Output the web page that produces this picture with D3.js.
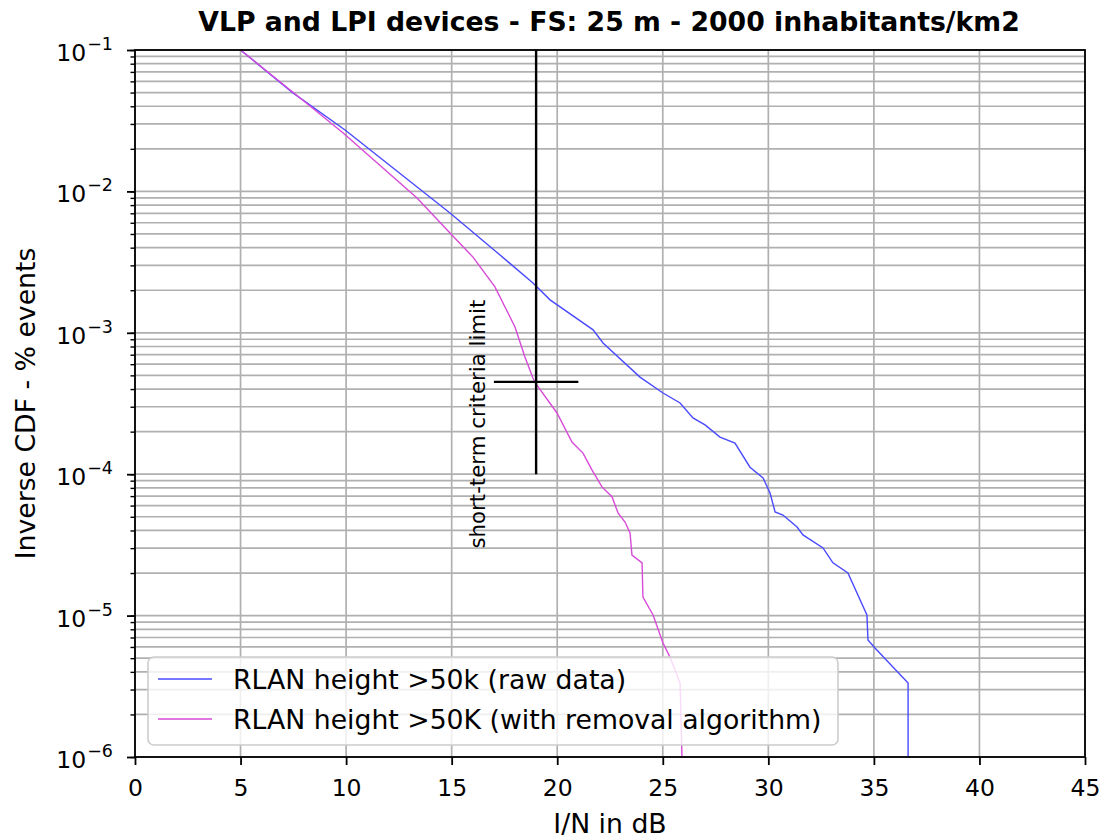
<!DOCTYPE html>
<html>
<head>
<meta charset="utf-8">
<script src="https://cdn.jsdelivr.net/npm/d3@7"></script>
<style>
  html, body { margin: 0; padding: 0; background: #fff; }
  svg { display: block; }
  text { font-family: "DejaVu Sans", sans-serif; fill: #000; }
</style>
</head>
<body>
<svg id="chart" width="1102" height="839"></svg>
<script>
// I/N (dB) and inverse CDF (% events) for the raw RLAN data
const rawIN = [5.0, 7.48, 9.95, 14.92, 17.15, 18.85, 19.66, 21.70, 22.17, 23.92, 25.01, 25.82, 26.43, 27.0, 27.71, 28.42, 29.13, 29.75, 30.08, 30.32, 30.69, 31.36, 31.64, 32.59, 33.06, 33.77, 34.67, 34.72, 35.05, 36.62, 36.62];
const rawCDF = [1e-1, 4.97e-2, 2.72e-2, 7.03e-3, 3.7e-3, 2.25e-3, 1.71e-3, 1.05e-3, 8.47e-4, 4.86e-4, 3.75e-4, 3.19e-4, 2.50e-4, 2.23e-4, 1.83e-4, 1.66e-4, 1.12e-4, 9.4e-5, 7.36e-5, 5.41e-5, 5.14e-5, 4.23e-5, 3.72e-5, 3.01e-5, 2.36e-5, 2.00e-5, 1.01e-5, 6.73e-6, 5.90e-6, 3.33e-6, 1e-6];

// Same scenario after the removal algorithm
const remIN = [5.0, 7.82, 9.86, 13.36, 14.92, 16.01, 17.05, 18.0, 18.47, 18.85, 18.97, 19.99, 20.70, 21.22, 21.65, 22.12, 22.60, 22.88, 23.21, 23.45, 23.54, 24.02, 24.06, 24.54, 25.01, 25.34, 25.82, 25.91];
const remCDF = [1e-1, 4.58e-2, 2.59e-2, 8.97e-3, 5.08e-3, 3.43e-3, 2.11e-3, 1.10e-3, 6.75e-4, 4.79e-4, 4.4e-4, 2.71e-4, 1.69e-4, 1.41e-4, 1.07e-4, 8.13e-5, 6.90e-5, 5.32e-5, 4.59e-5, 3.84e-5, 2.68e-5, 2.36e-5, 1.35e-5, 1.01e-5, 6.40e-6, 5.09e-6, 3.33e-6, 1e-6];

// Short-term criterion marker
const limitIN = 19;
const limitCDF = 4.5e-4;
const limitSpanIN = [17, 21];
const limitSpanCDF = [1e-4, 1e-1];

const xTicks = [0, 5, 10, 15, 20, 25, 30, 35, 40, 45];
const yDecades = [-6, -5, -4, -3, -2, -1];

const seriesNames = ["RLAN height >50k (raw data)", "RLAN height >50K (with removal algorithm)"];
const seriesColors = ["#4a4aff", "#d84ad8"];

const titleText = "VLP and LPI devices - FS: 25 m - 2000 inhabitants/km2";
const xLabel = "I/N in dB";
const yLabel = "Inverse CDF - % events";
const noteText = "short-term criteria limit";

const svg = d3.select("#chart");
const pLeft = 135, pRight = 1085, pTop = 50, pBottom = 757;
const tickFont = 23.5, labelFont = 26.7;

const x = d3.scaleLinear().domain([0, 45]).range([pLeft, pRight]);
const y = d3.scaleLog().domain([1e-6, 1e-1]).range([pBottom, pTop]);

// grid: vertical majors, horizontal decades and minors
const minorVals = [];
for (let d = -6; d < -1; d++) {
  for (let m = 1; m <= 9; m++) minorVals.push(m * Math.pow(10, d));
}
minorVals.push(1e-1);

const grid = svg.append("g").attr("stroke", "#b0b0b0").attr("stroke-width", 1.7);
grid.selectAll("line.v").data(xTicks).join("line")
  .attr("x1", d => x(d)).attr("x2", d => x(d))
  .attr("y1", pTop).attr("y2", pBottom);
grid.selectAll("line.h").data(minorVals).join("line")
  .attr("x1", pLeft).attr("x2", pRight)
  .attr("y1", d => y(d)).attr("y2", d => y(d));

// data lines
const line = d3.line().x(d => x(d[0])).y(d => y(d[1]));
const plot = svg.append("g");
plot.append("path").datum(d3.zip(rawIN, rawCDF))
  .attr("d", line).attr("fill", "none")
  .attr("stroke", seriesColors[0]).attr("stroke-width", 1.4);
plot.append("path").datum(d3.zip(remIN, remCDF))
  .attr("d", line).attr("fill", "none")
  .attr("stroke", seriesColors[1]).attr("stroke-width", 1.4);

// criterion cross
plot.append("line")
  .attr("x1", x(limitIN)).attr("x2", x(limitIN))
  .attr("y1", y(limitSpanCDF[0])).attr("y2", y(limitSpanCDF[1]))
  .attr("stroke", "#000").attr("stroke-width", 2.4);
plot.append("line")
  .attr("x1", x(limitSpanIN[0])).attr("x2", x(limitSpanIN[1]))
  .attr("y1", y(limitCDF)).attr("y2", y(limitCDF))
  .attr("stroke", "#000").attr("stroke-width", 2.4);
svg.append("text")
  .attr("transform", `translate(${x(16.58)},${y(2.26e-4)}) rotate(-90)`)
  .attr("text-anchor", "middle")
  .attr("font-size", 21.3)
  .text(noteText);

// axes
const xAxis = d3.axisBottom(x).tickValues(xTicks).tickSize(8).tickPadding(14).tickFormat(d3.format("d"));
const gx = svg.append("g").attr("transform", `translate(0,${pBottom})`).call(xAxis);
gx.select(".domain").remove();
gx.selectAll(".tick line").attr("stroke", "#000").attr("stroke-width", 1.8);
gx.selectAll(".tick text").attr("font-size", tickFont).attr("font-family", "DejaVu Sans").attr("fill", "#000");

const yAxisMinor = d3.axisLeft(y).tickValues(minorVals).tickSize(4.5).tickFormat("");
const gyMinor = svg.append("g").attr("transform", `translate(${pLeft},0)`).call(yAxisMinor);
gyMinor.select(".domain").remove();
gyMinor.selectAll(".tick line").attr("stroke", "#000").attr("stroke-width", 1.4);

const yAxis = d3.axisLeft(y).tickValues(yDecades.map(e => Math.pow(10, e))).tickSize(8).tickFormat("");
const gy = svg.append("g").attr("transform", `translate(${pLeft},0)`).call(yAxis);
gy.select(".domain").remove();
gy.selectAll(".tick line").attr("stroke", "#000").attr("stroke-width", 1.8);

// decade labels as 10 with superscript exponent
const yl = svg.append("g");
yDecades.forEach(e => {
  const t = yl.append("text")
    .attr("x", pLeft - 22).attr("y", y(Math.pow(10, e)) + 11)
    .attr("text-anchor", "end").attr("font-size", tickFont);
  t.append("tspan").text("10");
  t.append("tspan").attr("font-size", 17.5).attr("dy", -11).attr("dx", 1).text("\u2212" + Math.abs(e));
});

// frame
svg.append("rect").attr("x", pLeft).attr("y", pTop)
  .attr("width", pRight - pLeft).attr("height", pBottom - pTop)
  .attr("fill", "none").attr("stroke", "#000").attr("stroke-width", 1.8);

// legend
const lg = svg.append("g");
lg.append("rect").attr("x", 148).attr("y", 657).attr("width", 690).attr("height", 88)
  .attr("rx", 6).attr("fill", "#fff").attr("fill-opacity", 0.8)
  .attr("stroke", "#cccccc").attr("stroke-width", 1.6);
seriesNames.forEach((name, i) => {
  const yy = 679 + i * 40;
  lg.append("line").attr("x1", 158).attr("x2", 212).attr("y1", yy).attr("y2", yy)
    .attr("stroke", seriesColors[i]).attr("stroke-width", 1.4);
  lg.append("text").attr("x", 233).attr("y", yy + 9.5).attr("font-size", labelFont)
    .attr("fill", "#222").text(name);
});

// labels
svg.append("text").attr("x", 609).attr("y", 31).attr("text-anchor", "middle")
  .attr("font-size", labelFont).attr("font-weight", "bold")
  .text(titleText);
svg.append("text").attr("x", (pLeft + pRight) / 2).attr("y", 833).attr("text-anchor", "middle")
  .attr("font-size", labelFont).text(xLabel);
svg.append("text").attr("transform", `translate(35,${(pTop + pBottom) / 2}) rotate(-90)`)
  .attr("text-anchor", "middle").attr("font-size", labelFont).text(yLabel);
</script>
</body>
</html>
